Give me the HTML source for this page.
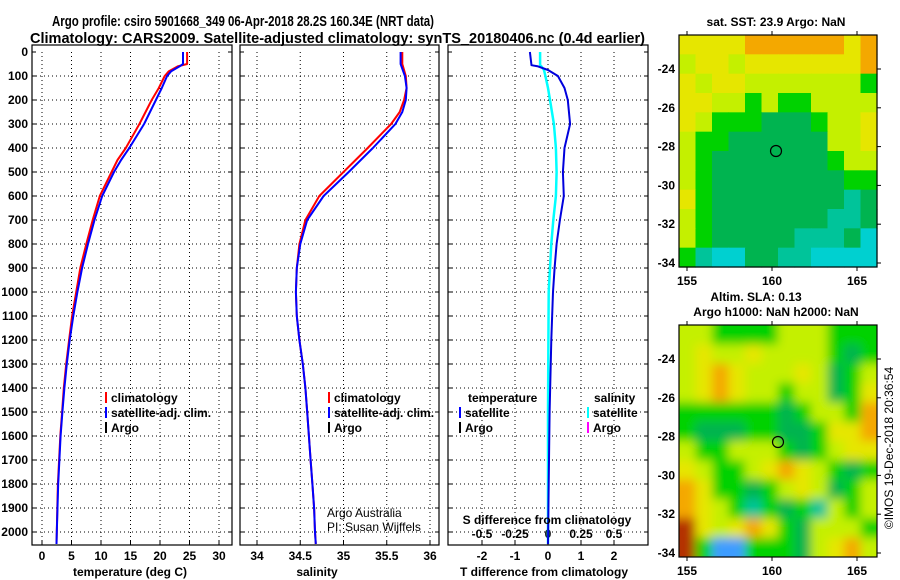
<!DOCTYPE html>
<html><head><meta charset="utf-8"><style>
html,body{margin:0;padding:0;background:#fff;}
svg{display:block;font-family:"Liberation Sans",Arial,sans-serif;font-weight:bold;}
</style></head><body>
<svg id="fig" width="900" height="580" viewBox="0 0 900 580" xmlns="http://www.w3.org/2000/svg">
<defs>
<filter id="blur" x="0" y="0" width="1" height="1"><feGaussianBlur stdDeviation="5"/></filter>
<clipPath id="clipm2"><rect x="679" y="325" width="198" height="232"/></clipPath>
</defs>
<text x="52" y="26" font-size="15" textLength="382" lengthAdjust="spacingAndGlyphs">Argo profile: csiro 5901668_349 06-Apr-2018 28.2S 160.34E (NRT data)</text>
<text x="30" y="43" font-size="15" textLength="615" lengthAdjust="spacingAndGlyphs">Climatology: CARS2009. Satellite-adjusted climatology: synTS_20180406.nc (0.4d earlier)</text>
<g id="p1"></g>
<g id="p2"></g>
<g id="p3"></g>
<g id="m1"></g>
<g id="m2"></g>
<text x="776" y="26" font-size="12" text-anchor="middle">sat. SST: 23.9 Argo: NaN</text>
<text x="756" y="301" font-size="12" text-anchor="middle">Altim. SLA: 0.13</text>
<text x="776" y="316" font-size="12" text-anchor="middle">Argo h1000: NaN h2000: NaN</text>
<text transform="translate(893,448) rotate(-90)" font-size="12" font-weight="normal" text-anchor="middle">©IMOS 19-Dec-2018 20:36:54</text>
</svg>
<script>
// ---- profile data ----
const tDepths = [0,50,60,80,100,150,200,300,400,450,500,600,700,800,900,1000,1100,1200,1300,1400,1500,1600,1700,1800,1900,2000,2050];
const tClim   = [24.6,24.6,23.0,21.5,20.8,19.8,18.6,16.5,14.2,12.8,11.8,9.8,8.6,7.5,6.5,5.8,5.1,4.6,4.1,3.7,3.4,3.1,2.9,2.7,2.6,2.5,2.45];
const tSat    = [23.9,23.9,23.3,21.9,21.2,20.3,19.3,17.3,14.8,13.4,12.2,10.2,8.9,7.8,6.8,6.0,5.3,4.7,4.2,3.8,3.45,3.15,2.95,2.75,2.62,2.5,2.45];
const sDepths = [0,50,100,150,200,250,300,400,500,600,700,800,900,1000,1100,1200,1300,1400,1500,1600,1700,1800,1900,2000,2050];
const sClim   = [35.68,35.68,35.72,35.73,35.70,35.65,35.55,35.28,35.00,34.72,34.56,34.49,34.46,34.45,34.46,34.49,34.53,34.56,34.58,34.60,34.62,34.64,34.66,34.67,34.68];
const sSat    = [35.66,35.66,35.71,35.73,35.72,35.68,35.60,35.34,35.06,34.77,34.58,34.50,34.46,34.45,34.46,34.49,34.53,34.56,34.58,34.60,34.62,34.64,34.66,34.67,34.68];
const dDepths = [0,55,60,75,100,150,200,300,400,500,600,700,800,900,1000,1200,1500,1800,2050];
const dTsat   = [-0.55,-0.5,-0.3,0.0,0.3,0.5,0.6,0.67,0.5,0.45,0.48,0.36,0.26,0.2,0.15,0.1,0.05,0.02,0.0];
const dSsat   = [-0.06,-0.06,-0.05,-0.03,-0.02,0.0,0.015,0.045,0.06,0.065,0.06,0.04,0.025,0.015,0.005,0.003,0.0,0.0,0.0];
const depthTicks = [0,100,200,300,400,500,600,700,800,900,1000,1100,1200,1300,1400,1500,1600,1700,1800,1900,2000];
const tTicks = [0,5,10,15,20,25,30];
const sTicks = [34,34.5,35,35.5,36];
const sTickLabels = ["34","34.5","35","35.5","36"];
const dTicks = [-2,-1,0,1,2];
const dsTicks = [-0.5,-0.25,0,0.25,0.5];
const dsTickLabels = ["-0.5","-0.25","0","0.25","0.5"];
// ---- map data (colour codes per cell) ----
const sstRows = [
"yyyyooooooyo","lyylyyyyyyyo","ylyylllllllg","yyllglgglllly","ylgggdddglly","lggddddddlly",
"lgdddddddgll","lgddddddddgg","ygddddddddtd","lgdddddddttd","lgdddddtttdc","gtccddttcccc"];
const slaRows = [
"llgggglllggg","lyllyllllgdg","lyoylllyldgl","lyoyllglldgy","ggggggdgllgo","gdddggddgyyo",
"lgglllgdglyy","ylgglyoylgdg","oyggdglyldgl","oylgtgdgtlgl","rylyoygdlllg","rgbbgggdlyol"];
const palette = {o:"#f4a800",y:"#e6e600",l:"#c4f000",g:"#00d200",d:"#00b450",t:"#00c49a",c:"#00d0d0",r:"#b43000",b:"#3c9cff"};

const NS="http://www.w3.org/2000/svg";
function mk(parent,tag,attrs,text){const e=document.createElementNS(NS,tag);for(const k in attrs)e.setAttribute(k,attrs[k]);if(text!==undefined)e.textContent=text;parent.appendChild(e);return e;}
const Y0=52, PXM=0.24, YB=545;
function yS(d){return Y0+d*PXM;}

function frame(g,x0,x1,xScale,ticks,labels,labelY,showY,gridX){
  depthTicks.forEach(d=>{ if(d>0){const l=mk(g,'line',{x1:x0,x2:x1,y1:yS(d),y2:yS(d),stroke:'#000','stroke-width':1,'stroke-dasharray':'1,3'});
    
    }
    const t1=mk(g,'line',{x1:x0,x2:x0+4,y1:yS(d),y2:yS(d),stroke:'#000'});
    
    
    const t2=mk(g,'line',{x1:x1-4,x2:x1,y1:yS(d),y2:yS(d),stroke:'#000'});
    
    
    if(showY){const tl=mk(g,'text',{x:x0-4,y:yS(d)+4,'font-size':12,'text-anchor':'end'},String(d));
      
      }
  });
  gridX.forEach((v,i)=>{const x=xScale(v);
    const l=mk(g,'line',{x1:x,x2:x,y1:Y0,y2:YB,stroke:'#000','stroke-width':1,'stroke-dasharray':'1,3'});
    
    
  });
  ticks.forEach((v,i)=>{const x=xScale(v);
    const tk=mk(g,'line',{x1:x,x2:x,y1:YB-4,y2:YB,stroke:'#000'});
    
    
    const tl=mk(g,'text',{x:x,y:labelY,'font-size':12,'text-anchor':'middle'},labels[i]);
    
    
  });
  const r=mk(g,'rect',{x:x0,y:Y0-7,width:x1-x0,height:YB-Y0+7,fill:'none',stroke:'#000','stroke-width':1.2});
  
  
}
function stepLine(g,depths,vals,xScale,color,w,name){
  let d='';
  depths.forEach((dp,i)=>{d+=(i?'L':'M')+xScale(vals[i]).toFixed(1)+','+yS(dp).toFixed(1);});
  const p=mk(g,'path',{d:d,fill:'none',stroke:color,'stroke-width':w,'stroke-linejoin':'round'});
  
  
}
function legend(g,x,y,items){
  items.forEach((it,i)=>{
    const b=mk(g,'rect',{x:x,y:y+i*15-10,width:2,height:11,fill:it[1]});
    
    
    const t=mk(g,'text',{x:x+6,y:y+i*15,'font-size':12},it[0]);
    
    
  });
}
const p1=document.getElementById('p1');
const xT=v=>42+v*5.9;
frame(p1,32,232,xT,tTicks,tTicks.map(String),560,true,tTicks);
stepLine(p1,tDepths,tClim,xT,'#ff0000',2,'temperature-climatology-line');
stepLine(p1,tDepths,tSat,xT,'#0000ff',2,'temperature-satellite-line');
legend(p1,105,402,[["climatology","#ff0000"],["satellite-adj. clim.","#0000ff"],["Argo","#000"]]);
let xl=mk(p1,'text',{x:130,y:576,'font-size':12,'text-anchor':'middle'},'temperature (deg C)');


const p2=document.getElementById('p2');
const xS=v=>257+(v-34)*86.5;
frame(p2,240,439,xS,sTicks,sTickLabels,560,false,sTicks);
stepLine(p2,sDepths,sClim,xS,'#ff0000',2,'salinity-climatology-line');
stepLine(p2,sDepths,sSat,xS,'#0000ff',2,'salinity-satellite-line');
legend(p2,328,402,[["climatology","#ff0000"],["satellite-adj. clim.","#0000ff"],["Argo","#000"]]);
let c1=mk(p2,'text',{x:327,y:517,'font-size':12,'font-weight':'normal'},'Argo Australia');


let c2=mk(p2,'text',{x:327,y:531,'font-size':12,'font-weight':'normal'},'PI: Susan Wijffels');


xl=mk(p2,'text',{x:317,y:576,'font-size':12,'text-anchor':'middle'},'salinity');


const p3=document.getElementById('p3');
const xD=v=>548+v*33;
const xDS=v=>548+v*132;
frame(p3,448,648,xD,dTicks,dTicks.map(String),560,false,dTicks);
dsTicks.forEach((v,i)=>{
  const t=mk(p3,'text',{x:xDS(v),y:538,'font-size':12,'text-anchor':'middle'},dsTickLabels[i]);
  
  
});
stepLine(p3,dDepths,dSsat,xDS,'#00ffff',2.5,'salinity-difference-line');
stepLine(p3,dDepths,dTsat,xD,'#0000dd',2,'temperature-difference-line');
let lt=mk(p3,'text',{x:468,y:402,'font-size':12},'temperature');


let ls=mk(p3,'text',{x:594,y:402,'font-size':12},'salinity');


legend(p3,459,417,[["satellite","#0000ff"],["Argo","#000"]]);
legend(p3,587,417,[["satellite","#00ffff"],["Argo","#ff00ff"]]);
let st=mk(p3,'text',{x:547,y:524,'font-size':12,'text-anchor':'middle'},'S difference from climatology');


xl=mk(p3,'text',{x:544,y:576,'font-size':12,'text-anchor':'middle'},'T difference from climatology');


function drawMap(id,rows,top,bot,latRef,latPx,circ,blur){
  const g=document.getElementById(id);
  const x0=679,x1=877,nr=rows.length,nc=12,cw=(x1-x0)/nc,ch=(bot-top)/nr;
  let cg=g;
  if(blur){const outer=mk(g,'g',{'clip-path':'url(#clipm2)'});cg=mk(outer,'g',{filter:'url(#blur)'});
    mk(cg,'rect',{x:x0-20,y:top-20,width:x1-x0+40,height:bot-top+40,fill:palette.l});}
  rows.forEach((row,r)=>{for(let c=0;c<nc;c++){const code=row[c]||row[row.length-1];
    const ex0=blur&&c===0?-20:0, ex1=blur&&c===nc-1?20:0, ey0=blur&&r===0?-20:0, ey1=blur&&r===nr-1?20:0;
    const cell=mk(cg,'rect',{x:(x0+c*cw+ex0).toFixed(2),y:(top+r*ch+ey0).toFixed(2),width:(cw+0.6-ex0+ex1).toFixed(2),height:(ch+0.6-ey0+ey1).toFixed(2),fill:palette[code]});
    
    }});
  const f=mk(g,'rect',{x:x0,y:top,width:x1-x0,height:bot-top,fill:'none',stroke:'#000','stroke-width':1.2});
  
  
  [155,160,165].forEach(lon=>{const x=687+(lon-155)*17;
    const t=mk(g,'text',{x:x,y:bot+18,'font-size':12,'text-anchor':'middle'},String(lon));
    
    
    mk(g,'line',{x1:x,x2:x,y1:top-4,y2:top,stroke:'#000'});
    mk(g,'line',{x1:x,x2:x,y1:bot,y2:bot+4,stroke:'#000'});});
  [-24,-26,-28,-30,-32,-34].forEach(lat=>{const y=latRef+(-24-lat)*latPx;
    const t=mk(g,'text',{x:x0-4,y:y+4,'font-size':12,'text-anchor':'end'},String(lat));
    
    
    mk(g,'line',{x1:x1,x2:x1+4,y1:y,y2:y,stroke:'#000'});});
  const c=mk(g,'circle',{cx:circ[0],cy:circ[1],r:5.5,fill:'none',stroke:'#000','stroke-width':1.2});
  
  
}
drawMap('m1',sstRows,35,267,69,19.4,[776,151],false);
drawMap('m2',slaRows,325,557,359,19.4,[778,442],true);
</script>
</body></html>
